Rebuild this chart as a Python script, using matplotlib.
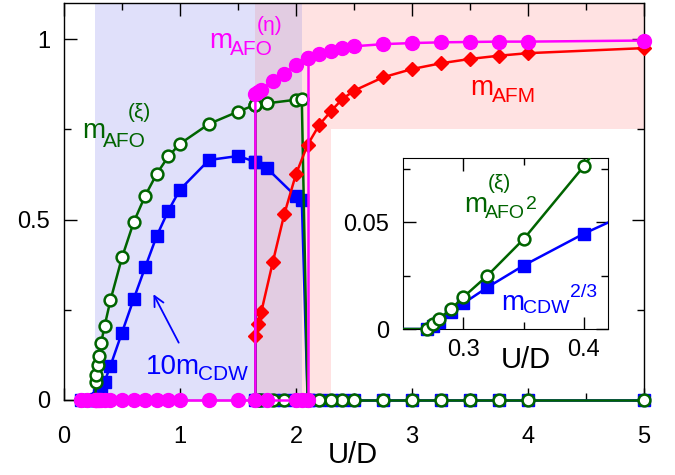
import numpy as np
import matplotlib
matplotlib.use('Agg')
import matplotlib.pyplot as plt
from matplotlib.ticker import MultipleLocator, FixedLocator

plt.rcParams['font.family'] = ['Liberation Sans', 'DejaVu Sans']

# ---------------- data ----------------
# forward sweep (increasing U): AFO(xi) + CDW phase
U_fwd = [0.15, 0.2, 0.27, 0.275, 0.28, 0.29, 0.30, 0.32, 0.35, 0.4, 0.5, 0.6, 0.7,
         0.8, 0.9, 1.0, 1.25, 1.5, 1.65, 1.75, 2.0, 2.05, 2.1]
m_xi_fwd = [0, 0, 0, 0.05, 0.07, 0.097, 0.122, 0.158, 0.205, 0.276, 0.395, 0.492, 0.566,
            0.627, 0.675, 0.710, 0.765, 0.799, 0.818, 0.822, 0.832, 0.834, 0]
cdw10_fwd = [0, 0, 0, 0.0006, 0.0017, 0.0069, 0.0131, 0.0272, 0.0512, 0.0942, 0.187, 0.279, 0.368,
             0.455, 0.525, 0.583, 0.665, 0.676, 0.660, 0.642, 0.564, 0.554, 0]
U_eta_fwd = [0.15, 0.2, 0.27, 0.275, 0.28, 0.29, 0.30, 0.32, 0.35, 0.4, 0.5, 0.6, 0.7,
             0.8, 0.9, 1.0, 1.25, 1.5, 1.65, 1.75, 2.0, 2.05, 2.1, 2.1]
m_eta_fwd = [0, 0, 0, 0, 0, 0, 0, 0, 0, 0, 0, 0, 0,
             0, 0, 0, 0, 0, 0, 0, 0, 0, 0, 0.947]

# backward sweep (decreasing U): AFO(eta) + AFM phase
U_bwd = [5.0, 4.0, 3.75, 3.5, 3.25, 3.0, 2.75, 2.5, 2.4, 2.3, 2.2, 2.1, 2.0, 1.9,
         1.8, 1.7, 1.675, 1.65]
m_afm_bwd = [0.975, 0.961, 0.954, 0.945, 0.933, 0.917, 0.894, 0.857, 0.834, 0.80, 0.762,
             0.707, 0.626, 0.516, 0.382, 0.243, 0.21, 0.176]
m_eta_bwd = [0.996, 0.993, 0.993, 0.992, 0.991, 0.989, 0.986, 0.98, 0.975, 0.966, 0.959,
             0.947, 0.929, 0.904, 0.884, 0.86, 0.853, 0.848]
m_eta_bwd_tail = 0.0
U_bwd_jump = [5.0, 4.0, 3.75, 3.5, 3.25, 3.0, 2.75, 2.5, 2.4, 2.3, 2.2, 2.1, 2.0, 1.9,
              1.8, 1.7, 1.675, 1.65, 1.65]
m_xi_bwd = [0, 0, 0, 0, 0, 0, 0, 0, 0, 0, 0, 0, 0, 0, 0, 0, 0, 0, 0.818]
cdw10_bwd = [0, 0, 0, 0, 0, 0, 0, 0, 0, 0, 0, 0, 0, 0, 0, 0, 0, 0, 0.660]

# phase regions
xi_region = (0.27, 1.65)
coexist_region = (1.65, 2.05)
eta_region = (2.05, 2.3)
eta_top_region = (2.3, 5.0, 0.75)

x_ticks = [0, 1, 2, 3, 4, 5]
y_ticks = [0, 0.5, 1]
y_tick_labels = ['0', '0.5', '1']
inset_x_ticks = [0.3, 0.4]
inset_x_tick_labels = ['0.3', '0.4']
inset_y_ticks = [0, 0.05]
inset_y_tick_labels = ['0', '0.05']

# ---------------- style ----------------
GREEN = '#006400'
BLUE = '#0000ff'
MAG = '#ff00ff'
RED = '#ff0000'
LAV = '#e0e0fa'
PINK = '#ffe2e2'
PURP = '#e2cce2'

W, H = 675, 475
fig = plt.figure(figsize=(W / 100, H / 100), dpi=100)

def fx(px):
    return px / W

def fy(py):
    return 1 - py / H

L, R, T, B = 64, 644, 3, 400
ax = fig.add_axes([fx(L), fy(B), fx(R) - fx(L), fy(T) - fy(B)])
ax.set_xlim(0, 5)
ax.set_ylim(0, 1.1)

ax.axvspan(*xi_region, color=LAV, lw=0, zorder=0)
ax.axvspan(*coexist_region, color=PURP, lw=0, zorder=0)
ax.axvspan(*eta_region, color=PINK, lw=0, zorder=0)
ax.fill_between([eta_top_region[0], eta_top_region[1]], eta_top_region[2], 1.1,
                color=PINK, lw=0, zorder=0)

lw = 1.8
sq = dict(color=BLUE, lw=lw, ms=9, mec=BLUE, clip_on=False, zorder=3)
oc = dict(color=GREEN, lw=lw, ms=8.5, mfc='white', mec=GREEN, mew=1.8, clip_on=False, zorder=4)
# blue 10 m_CDW
ax.plot(U_fwd, cdw10_fwd, '-s', **sq)
ax.plot(U_bwd_jump, cdw10_bwd, '-s', **sq)
# green m_AFO(xi)
ax.plot(U_fwd, m_xi_fwd, '-o', **oc)
ax.plot(U_bwd_jump, m_xi_bwd, '-o', **oc)
# red m_AFM
ax.plot(U_bwd, m_afm_bwd, '-D', color=RED, lw=lw, ms=7.5, mec=RED, clip_on=False, zorder=5)
# magenta m_AFO(eta)
ax.plot(U_eta_fwd, m_eta_fwd, '-o', color=MAG, lw=lw, ms=10, mec=MAG, clip_on=False, zorder=6)
ax.plot(U_bwd + [U_bwd[-1]], m_eta_bwd + [m_eta_bwd_tail], '-o', color=MAG, lw=lw, ms=10,
        mec=MAG, clip_on=False, zorder=6, markevery=list(range(len(U_bwd))))

ax.xaxis.set_major_locator(FixedLocator(x_ticks))
ax.xaxis.set_minor_locator(MultipleLocator(0.5))
ax.yaxis.set_major_locator(FixedLocator(y_ticks))
ax.set_yticklabels(y_tick_labels)
ax.yaxis.set_minor_locator(MultipleLocator(0.25))
ax.tick_params(which='both', direction='in', top=True, right=True, width=1, colors='black')
ax.tick_params(which='major', length=9)
ax.tick_params(which='minor', length=5)
ax.tick_params(axis='x', which='major', labelsize=17, pad=19)
ax.tick_params(axis='y', which='major', labelsize=17, pad=10)
for s in ax.spines.values():
    s.set_linewidth(1.0)

# arrow
ax.annotate('', xy=(0.76, 0.30), xytext=(1.0, 0.152),
            arrowprops=dict(arrowstyle='->', color=BLUE, lw=1.3, mutation_scale=18), zorder=7)

def put(txt, x, y, size, color='black', **kw):
    fig.text(fx(x), fy(y), txt, fontsize=size, color=color, ha='left', va='baseline', **kw)

put('U/D', 328, 463, 21)
# labels main
put('m', 82, 138, 20, GREEN); put('AFO', 103, 147, 15, GREEN); put('(ξ)', 128, 118, 15, GREEN)
put('m', 209, 48, 20, MAG); put('AFO', 230, 55, 15, MAG); put('(η)', 257, 31, 15, MAG)
put('m', 470, 95, 20, RED); put('AFM', 492, 102, 15, RED)
put('10m', 146, 374, 20, BLUE); put('CDW', 198, 380, 15, BLUE)

# ---------------- inset ----------------
iL, iR, iT, iB = 403, 608, 158, 329
ax2 = fig.add_axes([fx(iL), fy(iB), fx(iR) - fx(iL), fy(iT) - fy(iB)])
ax2.set_facecolor('white')
ax2.set_xlim(0.25, 0.42)
ax2.set_ylim(0, 0.08)
U_in = np.array(U_fwd)
cdw_in = (np.array(cdw10_fwd) / 10.0) ** (2 / 3)
xi_in = np.array(m_xi_fwd) ** 2
vis = (U_in > 0.255) & (U_in < 0.415)
ax2.plot(U_in, cdw_in, '-', color=BLUE, lw=lw, zorder=3)
ax2.plot(U_in[vis], cdw_in[vis], 's', color=BLUE, ms=9, mec=BLUE, clip_on=False, zorder=3)
ax2.plot(U_in, xi_in, '-', color=GREEN, lw=lw, zorder=4)
ax2.plot(U_in[vis], xi_in[vis], 'o', color=GREEN, ms=8.5, mfc='white', mec=GREEN, mew=1.8,
         clip_on=False, zorder=4)
ax2.xaxis.set_major_locator(FixedLocator(inset_x_ticks))
ax2.set_xticklabels(inset_x_tick_labels)
ax2.xaxis.set_minor_locator(FixedLocator([0.35]))
ax2.yaxis.set_major_locator(FixedLocator(inset_y_ticks))
ax2.set_yticklabels(inset_y_tick_labels)
ax2.yaxis.set_minor_locator(FixedLocator([0.025, 0.075]))
ax2.tick_params(which='both', direction='in', top=True, right=True, width=1)
ax2.tick_params(which='major', length=9)
ax2.tick_params(which='minor', length=5)
ax2.tick_params(axis='x', which='major', labelsize=17, pad=7)
ax2.tick_params(axis='y', which='major', labelsize=17, pad=10)

put('U/D', 501, 368, 21)
put('(ξ)', 488, 189, 15, GREEN); put('m', 464, 212, 20, GREEN); put('AFO', 485, 218, 14, GREEN)
put('2', 526, 209, 14, GREEN)
put('m', 501, 310, 20, BLUE); put('CDW', 523, 313, 14, BLUE); put('2/3', 570, 297, 14, BLUE)

fig.savefig('out.png', dpi=100)
